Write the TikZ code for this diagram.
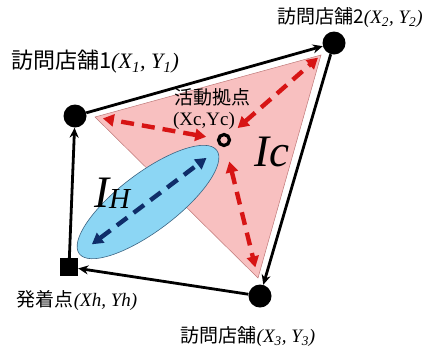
\documentclass[tikz,border=0pt]{standalone}
\usepackage{fontspec}
\setmainfont{Liberation Serif}
\newfontfamily\jp{Noto Sans CJK JP}
\usetikzlibrary{arrows.meta,positioning,shapes.geometric}
\definecolor{areapink}{RGB}{248,192,192}
\definecolor{areaedge}{RGB}{190,120,120}
\definecolor{homeblue}{RGB}{140,214,244}
\definecolor{homeedge}{RGB}{60,100,130}
\definecolor{dashnavy}{RGB}{15,45,105}
\definecolor{dashred}{RGB}{215,20,20}
\newcommand{\lowidx}[1]{\textsubscript{\textit{#1}}}
\tikzset{
  store/.style   ={circle, fill=black, minimum size=23pt, inner sep=0pt},
  homebox/.style ={rectangle, fill=black, minimum size=18pt, inner sep=0pt},
  basering/.style={circle, draw=black, line width=3.2pt, minimum size=11pt,
                   inner sep=0pt},
  lbl/.style     ={inner sep=0pt, font=\fontsize{19}{21}\selectfont},
  biglbl/.style  ={inner sep=0pt, font=\fontsize{45}{50}\selectfont\itshape},
  route/.style   ={-{Stealth[length=10pt,width=9pt]}, line width=2.8pt},
  reach/.style   ={{Triangle[length=11pt,width=12pt]}-{Triangle[length=11pt,width=12pt]},
                   line width=4.4pt, dash pattern=on 13pt off 8pt, dashred},
  spread/.style  ={{Triangle[length=11pt,width=12pt]}-{Triangle[length=11pt,width=12pt]},
                   line width=4.4pt, dash pattern=on 13pt off 8pt, dashnavy},
}

\begin{document}
\begin{tikzpicture}[x=1pt,y=-1pt]
  \useasboundingbox (0,0) rectangle (427,349);
  % area covered from the base
  \coordinate (v1) at (95,117);
  \coordinate (v2) at (321,55);
  \coordinate (v3) at (258,278);
  \fill[areapink, draw=areaedge, line width=0.5pt] (v1) -- (v2) -- (v3) -- cycle;
  \node[ellipse, rotate=37, minimum width=172pt, minimum height=58pt,
        fill=homeblue, draw=homeedge, line width=0.6pt] (ih) at (148,202) {};

  \node[store] (s1) at (75,116) {};
  \node[store] (s2) at (334,43) {};
  \node[store] (s3) at (260,296) {};
  \node[homebox] (home) at (69,267) {};
  \node[basering] (c) at (224,140) {};

  \draw[route] (home) -- (s1);
  \draw[route] (s1) -- (s2);
  \draw[route] (s2) -- (s3);
  \draw[route] (s3) -- (home);

  \draw[reach, shorten <=11pt, shorten >=8pt] (c) -- (v1);
  \draw[reach, shorten <=11pt, shorten >=4pt] (c) -- (v2);
  \draw[reach, shorten <=15pt, shorten >=11pt] (c) -- (v3);
  \draw[spread, shorten <=16pt, shorten >=13pt] (ih.west) -- (ih.east);

  \node[lbl, font=\fontsize{22}{24}\selectfont] (s1lbl) at (95,62)
       {{\jp 訪問店舗1}\textit{(X\lowidx{1}, Y\lowidx{1})}};
  \node[lbl] (s2lbl) at (350,18) {{\jp 訪問店舗2}\textit{(X\lowidx{2}, Y\lowidx{2})}};
  \node[lbl] (s3lbl) at (248,337) {{\jp 訪問店舗}\textit{(X\lowidx{3}, Y\lowidx{3})}};
  \node[lbl] (homelbl) at (77,301) {{\jp 発着点}\textit{(Xh, Yh)}};
  \node[lbl] (clbl) at (212,97) {\jp 活動拠点};
  \node[lbl, below=6pt of clbl.south, xshift=-8pt] (cxy) {(Xc,Yc)};
  \node[biglbl] (iclbl) at (272,152) {Ic};
  \node[biglbl, anchor=base west] (ihlbl) at (94,207)
       {I\raisebox{-1pt}{\fontsize{29}{30}\selectfont H}};
\end{tikzpicture}
\end{document}
